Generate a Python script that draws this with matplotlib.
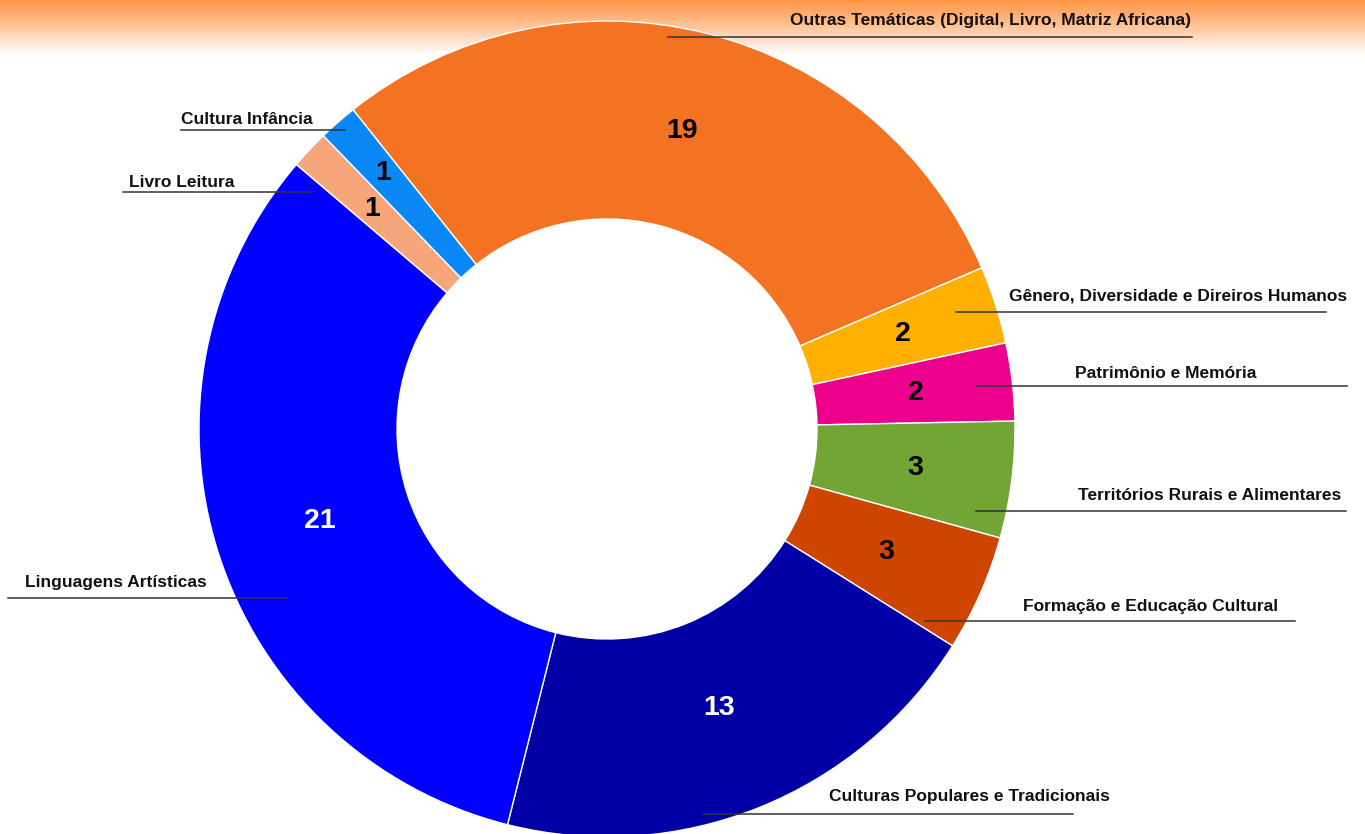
import numpy as np
import matplotlib
matplotlib.use('Agg')
import matplotlib.pyplot as plt

# DATA
labels = ['Outras Temáticas (Digital, Livro, Matriz Africana)',
          'Gênero, Diversidade e Direiros Humanos',
          'Patrimônio e Memória',
          'Territórios Rurais e Alimentares',
          'Formação e Educação Cultural',
          'Culturas Populares e Tradicionais',
          'Linguagens Artísticas',
          'Livro Leitura',
          'Cultura Infância']
values = [19, 2, 2, 3, 3, 13, 21, 1, 1]
colors = ['#F37323', '#FFB000', '#EC008C', '#72A536', '#CE4500',
          '#0000A6', '#0000FF', '#F7A57B', '#0A88F7']
value_colors = ['black', 'black', 'black', 'black', 'black',
                'white', 'white', 'black', 'black']

# layout (pixels, y measured from top)
W, H = 1365, 834
cx, cy = 607, 429
R_out, R_in = 408, 210
start = 128.5
value_r = [307, 311, 311, 311, 305, 301, 301, 322, 340]
text_x = [991, 1178, 1166, 1210, 1151, 969, 116, 182, 247]
text_y = [20, 296, 373, 495, 606, 796, 582, 182, 119]
line_x0 = [668, 956, 977, 976, 925, 703, 8, 123, 181]
line_x1 = [1192, 1326, 1347, 1346, 1295, 1073, 287, 313, 345]
line_y = [37, 312, 386, 511, 621, 814, 598, 192, 130]

plt.rcParams['font.family'] = ['Liberation Sans', 'DejaVu Sans']

fig = plt.figure(figsize=(W / 100, H / 100), dpi=100)
ax = fig.add_axes([0, 0, 1, 1])
ax.set_xlim(0, W)
ax.set_ylim(0, H)
ax.axis('off')

# orange header gradient
grad_h = 55
t = np.linspace(0, 1, 100)[:, None]
top = np.array([255, 150, 72]) / 255
grad = top + (1 - top) * (t ** 1.1)
grad = np.repeat(grad[:, None, :], 2, axis=1)
ax.imshow(grad, extent=[0, W, H - grad_h, H], aspect='auto', zorder=0,
          interpolation='bilinear')

wedges, _ = ax.pie(values, colors=colors, startangle=start, counterclock=False,
                   center=(cx, H - cy), radius=R_out,
                   wedgeprops=dict(width=R_out - R_in, edgecolor='white', linewidth=1))
for w in wedges:
    w.set_zorder(2)
ax.set_xlim(0, W)
ax.set_ylim(0, H)
ax.set_aspect('auto')

for i, w in enumerate(wedges):
    mid = np.deg2rad((w.theta1 + w.theta2) / 2)
    ax.text(cx + value_r[i] * np.cos(mid), H - cy + value_r[i] * np.sin(mid),
            str(values[i]), ha='center', va='center', fontsize=20.5,
            fontweight='bold', color=value_colors[i], zorder=4)
    ax.plot([line_x0[i], line_x1[i]], [H - line_y[i], H - line_y[i]],
            color='#333333', lw=1.1, zorder=3)
    ax.text(text_x[i], H - text_y[i], labels[i], ha='center', va='center',
            fontsize=12.5, fontweight='bold', color='#111111', zorder=4)

fig.savefig('out.png', dpi=100)
